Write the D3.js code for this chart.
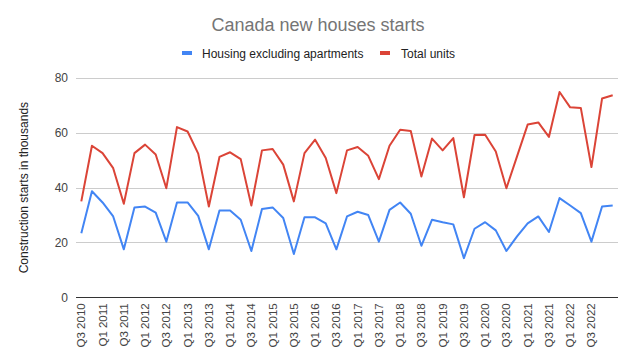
<!DOCTYPE html>
<html><head><meta charset="utf-8">
<script src="https://cdn.jsdelivr.net/npm/d3@7"></script>
<style>body{margin:0;background:#fff;}svg{display:block;font-family:"Liberation Sans",Arial,sans-serif;}</style>
</head><body><svg id="c" width="634" height="358"></svg>
<script>
const quarters = ["Q3 2010","Q4 2010","Q1 2011","Q2 2011","Q3 2011","Q4 2011","Q1 2012","Q2 2012","Q3 2012","Q4 2012","Q1 2013","Q2 2013","Q3 2013","Q4 2013","Q1 2014","Q2 2014","Q3 2014","Q4 2014","Q1 2015","Q2 2015","Q3 2015","Q4 2015","Q1 2016","Q2 2016","Q3 2016","Q4 2016","Q1 2017","Q2 2017","Q3 2017","Q4 2017","Q1 2018","Q2 2018","Q3 2018","Q4 2018","Q1 2019","Q2 2019","Q3 2019","Q4 2019","Q1 2020","Q2 2020","Q3 2020","Q4 2020","Q1 2021","Q2 2021","Q3 2021","Q4 2021","Q1 2022","Q2 2022","Q3 2022","Q4 2022","Q1 2023"];
const xTickLabels = ["Q3 2010","Q1 2011","Q3 2011","Q1 2012","Q3 2012","Q1 2013","Q3 2013","Q1 2014","Q3 2014","Q1 2015","Q3 2015","Q1 2016","Q3 2016","Q1 2017","Q3 2017","Q1 2018","Q3 2018","Q1 2019","Q3 2019","Q1 2020","Q3 2020","Q1 2021","Q3 2021","Q1 2022","Q3 2022"];
const housingExclApartments = [23.4,38.7,34.6,29.5,17.5,32.8,33.1,30.9,20.3,34.6,34.6,29.7,17.5,31.7,31.7,28.3,16.9,32.2,32.8,28.9,15.8,29.2,29.2,27.0,17.5,29.5,31.2,30.0,20.3,31.9,34.6,30.5,18.8,28.3,27.4,26.6,14.3,25.0,27.4,24.4,16.9,22.2,27.0,29.5,23.8,36.2,33.5,30.7,20.3,33.1,33.5];
const totalUnits = [35.0,55.3,52.6,47.1,34.1,52.6,55.7,52.1,39.8,62.1,60.5,52.4,33.1,51.2,52.9,50.4,33.5,53.6,54.1,48.4,35.0,52.6,57.5,50.8,38.0,53.6,54.8,51.6,43.1,55.3,61.1,60.7,44.1,57.9,53.6,58.1,36.5,59.2,59.3,53.2,39.8,51.4,63.0,63.8,58.5,74.9,69.3,69.1,47.5,72.5,73.7];
const yTicks = [0,20,40,60,80];
const seriesNames = ["Housing excluding apartments","Total units"];
const colors = ["#4285F4","#DB4437"];

const svg = d3.select("#c");
const m = {l:76, r:618, t:78, b:297.3};
const x = d3.scaleBand().domain(quarters).range([m.l, m.r]);
const y = d3.scaleLinear().domain([0,80]).range([m.b, m.t]);

// title
svg.append("text").attr("x",318).attr("y",31).attr("text-anchor","middle")
  .attr("font-size",18).attr("fill","#757575").text("Canada new houses starts");

// legend
const lg = [{x:182, tx:202},{x:380, tx:401}];
seriesNames.forEach((n,i)=>{
  svg.append("rect").attr("x",lg[i].x).attr("y",51).attr("width",10).attr("height",4).attr("fill",colors[i]);
  svg.append("text").attr("x",lg[i].tx).attr("y",57.5).attr("font-size",12).attr("fill","#222").text(n);
});

// grid
svg.append("g").selectAll("line").data(yTicks.filter(d=>d>0)).join("line")
  .attr("x1",m.l).attr("x2",m.r).attr("y1",d=>Math.round(y(d))+0.5).attr("y2",d=>Math.round(y(d))+0.5)
  .attr("stroke","#cccccc").attr("stroke-width",1);

// y axis labels
const ya = svg.append("g").attr("transform",`translate(${m.l-8},0)`)
  .call(d3.axisLeft(y).tickValues(yTicks).tickSize(0).tickPadding(0));
ya.select(".domain").remove();
ya.selectAll("text").attr("font-size",12).attr("fill","#444").attr("font-family","Liberation Sans, Arial, sans-serif");

svg.append("text").attr("transform",`translate(28,${(m.t+m.b)/2}) rotate(-90)`)
  .attr("text-anchor","middle").attr("font-size",12).attr("fill","#222").text("Construction starts in thousands");

// x axis
const xa = svg.append("g").attr("transform",`translate(0,${m.b})`)
  .call(d3.axisBottom(x).tickValues(xTickLabels).tickSize(0).tickPadding(0));
xa.select(".domain").remove();
xa.selectAll("text").attr("font-size",11.5).attr("fill","#444").attr("font-family","Liberation Sans, Arial, sans-serif")
  .attr("text-anchor","end").attr("dy","0.35em")
  .attr("transform","translate(0,6) rotate(-90)");

// lines
const line = d3.line().x((d,i)=>x(quarters[i])+x.bandwidth()/2).y(d=>y(d));
[housingExclApartments,totalUnits].forEach((s,i)=>{
  svg.append("path").datum(s).attr("d",line).attr("fill","none")
    .attr("stroke",colors[i]).attr("stroke-width",2).attr("stroke-linejoin","round");
});

// baseline
svg.append("line").attr("x1",m.l).attr("x2",m.r).attr("y1",Math.round(m.b)+0.5).attr("y2",Math.round(m.b)+0.5)
  .attr("stroke","#333").attr("stroke-width",1);
</script></body></html>
